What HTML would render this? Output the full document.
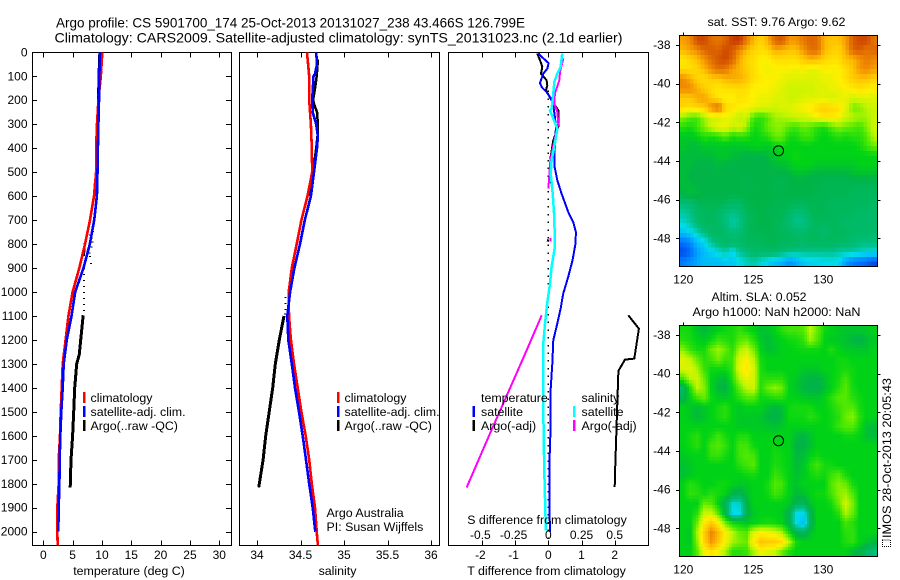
<!DOCTYPE html>
<html lang="en">
<head>
<meta charset="utf-8">
<title>Argo profile CS 5901700_174</title>
<style>
html,body{margin:0;padding:0;background:#fff;}
#chart{display:block;width:900px;height:580px;background:#fff;}
text{font-family:"Liberation Sans",sans-serif;font-size:12.4px;fill:#000;}
.title{font-size:14px;}
.tick{font-size:12px;}
</style>
</head>
<body>
<svg id="chart" xmlns="http://www.w3.org/2000/svg" width="900" height="580" viewBox="0 0 900 580">
  <text class="title" x="56" y="27.5" textLength="469" lengthAdjust="spacingAndGlyphs">Argo profile: CS 5901700_174 25-Oct-2013 20131027_238 43.466S 126.799E</text>
  <text class="title" x="54.5" y="42.5" textLength="568" lengthAdjust="spacingAndGlyphs">Climatology: CARS2009. Satellite-adjusted climatology: synTS_20131023.nc (2.1d earlier)</text>

  <g id="panel-t"></g>
  <g id="panel-s"></g>
  <g id="panel-d"></g>
  <g id="map-sst"></g>
  <g id="map-sla"></g>

  <text x="129" y="575" text-anchor="middle">temperature (deg C)</text>
  <text x="337.5" y="575" text-anchor="middle">salinity</text>
  <text x="546.5" y="575" text-anchor="middle">T difference from climatology</text>
  <text x="547" y="524" text-anchor="middle">S difference from climatology</text>

  <g>
    <rect x="83" y="392" width="2.5" height="11" fill="#ff0000"/>
    <rect x="83" y="406" width="2.5" height="11" fill="#0000ff"/>
    <rect x="83" y="420" width="2.5" height="11" fill="#000"/>
    <text x="90.5" y="402">climatology</text>
    <text x="90.5" y="416">satellite-adj. clim.</text>
    <text x="90.5" y="430">Argo(..raw -QC)</text>
  </g>
  <g>
    <rect x="337" y="392" width="2.5" height="11" fill="#ff0000"/>
    <rect x="337" y="406" width="2.5" height="11" fill="#0000ff"/>
    <rect x="337" y="420" width="2.5" height="11" fill="#000"/>
    <text x="344.5" y="402">climatology</text>
    <text x="344.5" y="416">satellite-adj. clim.</text>
    <text x="344.5" y="430">Argo(..raw -QC)</text>
  </g>
  <g>
    <text x="326.5" y="517">Argo Australia</text>
    <text x="326.5" y="531">PI: Susan Wijffels</text>
  </g>
  <g id="diff-legend">
    <text x="481" y="402">temperature</text>
    <rect x="472.5" y="406" width="2.5" height="11" fill="#0000ff"/>
    <text x="481" y="416">satellite</text>
    <rect x="472.5" y="420" width="2.5" height="11" fill="#000"/>
    <text x="481" y="430">Argo(-adj)</text>
    <text x="581.5" y="402">salinity</text>
    <rect x="573" y="406" width="2.5" height="11" fill="#00ffff"/>
    <text x="581.5" y="416">satellite</text>
    <rect x="573" y="420" width="2.5" height="11" fill="#ff00ff"/>
    <text x="581.5" y="430">Argo(-adj)</text>
  </g>

  <text x="776.5" y="26" text-anchor="middle" textLength="138" lengthAdjust="spacingAndGlyphs">sat. SST: 9.76 Argo: 9.62</text>
  <text x="759" y="301" text-anchor="middle" textLength="95" lengthAdjust="spacingAndGlyphs">Altim. SLA: 0.052</text>
  <text x="776.5" y="316" text-anchor="middle" textLength="168" lengthAdjust="spacingAndGlyphs">Argo h1000: NaN h2000: NaN</text>
  <text transform="translate(891,538) rotate(-90)" x="0" y="0" textLength="160" lengthAdjust="spacingAndGlyphs">IMOS 28-Oct-2013 20:05:43</text>
  <rect x="882.5" y="540" width="8" height="6.5" fill="none" stroke="#000" stroke-width="1" stroke-dasharray="1 1"/>
</svg>
<script>
/* ---------- depth axis ---------- */
const depthTicks = [0,100,200,300,400,500,600,700,800,900,1000,1100,1200,1300,1400,1500,1600,1700,1800,1900,2000];

/* ---------- temperature panel ---------- */
const tempTicks = [0,5,10,15,20,25,30];
const tempClimDepth = [0,100,200,300,400,500,600,700,800,900,1000,1100,1200,1300,1400,1500,1600,1700,1800,1900,2000,2057];
const tempClimValue = [10.06,9.8,9.4,9.15,9.0,9.0,8.65,7.96,7.1,6.14,5.0,4.27,3.8,3.3,3.13,2.96,2.85,2.62,2.62,2.39,2.39,2.45];
const tempSatDepth = [0,100,200,300,400,500,600,700,800,850,900,1000,1100,1200,1300,1400,1500,1600,1700,1800,1900,2000];
const tempSatValue = [9.66,9.55,9.5,9.4,9.3,9.24,9.13,8.67,7.93,7.4,6.85,5.43,4.8,4.0,3.47,3.3,3.07,2.9,2.8,2.74,2.62,2.56];
const tempArgoDepth = [0,100,300,500,550,590];
const tempArgoValue = [9.6,9.45,9.3,9.15,8.8,8.7];
const tempArgoMidDepth = [770,800,830,850];
const tempArgoMidValue = [7.4,7.0,7.0,6.9];
const tempArgoDeepDepth = [1097,1200,1260,1300,1400,1500,1600,1700,1800,1815];
const tempArgoDeepValue = [6.8,6.37,6.14,5.69,5.35,5.18,5.0,4.72,4.6,4.58];
const tempRawDepth = [570,590,610,680,690,730,745,760,775,790,810,835,850,880,900,925,950,975,1000,1025,1050,1075];
const tempRawValue = [8.7,8.7,8.7,8.7,8.7,8.4,8.5,8.0,8.2,8.4,8.2,7.9,8.0,8.1,6.94,6.94,6.94,6.94,6.94,6.94,6.94,6.94];

/* ---------- salinity panel ---------- */
const salTicks = [34,34.5,35,35.5,36];
const salClimDepth = [0,100,200,300,400,500,600,700,800,900,1000,1100,1200,1300,1400,1500,1600,1700,1800,1900,2000,2057];
const salClimValue = [34.575,34.6,34.6,34.62,34.63,34.635,34.58,34.51,34.456,34.4,34.364,34.368,34.39,34.425,34.468,34.51,34.56,34.6,34.63,34.667,34.686,34.7];
const salSatDepth = [0,50,90,100,200,250,300,350,400,500,600,700,800,900,1000,1100,1200,1300,1400,1500,1600,1700,1800,1900,2000];
const salSatValue = [34.68,34.69,34.667,34.65,34.635,34.64,34.68,34.7,34.69,34.655,34.62,34.55,34.494,34.43,34.38,34.348,34.36,34.4,34.437,34.483,34.525,34.563,34.6,34.64,34.67];
const salArgoDepth = [30,100,150,200,220,250,300,350,400,500,600];
const salArgoValue = [34.7,34.686,34.667,34.645,34.66,34.69,34.7,34.695,34.68,34.645,34.6];
const salArgoDeepDepth = [1100,1200,1300,1400,1500,1600,1700,1800,1815];
const salArgoDeepValue = [34.31,34.256,34.21,34.18,34.14,34.1,34.07,34.026,34.02];
const salRawDepth = [1020,1045,1070,1090];
const salRawValue = [34.33,34.33,34.33,34.32];

/* ---------- difference panel ---------- */
const diffTTicks = [-2,-1,0,1,2];
const diffSTicks = [-0.5,-0.25,0,0.25,0.5];
const diffSatTDepth = [5,19,45,68,89,128,145,166,193,221,270,314,367,430,478,534,590,666,708,750,798,868,937,1007,1070,1132,1201,1299,1410,1563,1730,1869,2001];
const diffSatTValue = [-0.29,-0.2,0.01,-0.03,-0.15,-0.25,-0.2,-0.05,0.08,0.15,0.2,0.23,0.21,0.18,0.19,0.27,0.4,0.6,0.75,0.83,0.82,0.73,0.6,0.45,0.37,0.27,0.15,0.12,0.07,0.07,0.03,0.03,0.05];
const diffArgoTDepth = [5,33,61,89,117,138,158,189,221,242,311,367,437,548];
const diffArgoTValue = [-0.33,-0.25,-0.18,-0.22,-0.05,-0.03,-0.07,0.05,0.2,0.3,0.3,0.15,0.07,0.05];
const diffArgoTMarkDepth = [780,790];
const diffArgoTMarkValue = [0,-0.02];
const diffArgoTDeepDepth = [1097,1153,1278,1282,1329,1452,1632,1757,1813];
const diffArgoTDeepValue = [2.41,2.73,2.59,2.31,2.11,2.08,2.04,2.01,2.0];
const diffSatSDepth = [5,61,89,124,173,236,242,277,319,381,451,506,590,687,812,895,965,1048,1132,1215,1382,1493,1660,1799,1994];
const diffSatSValue = [0.105,0.093,0.068,0.045,0.038,0.025,0.013,0.038,0.068,0.05,0.025,0.018,0.033,0.045,0.05,0.025,0.013,-0.008,-0.025,-0.038,-0.038,-0.038,-0.033,-0.028,-0.018];
const diffArgoSDepth = [26,82,117,172,214,249,298,360,423,465,514,569];
const diffArgoSValue = [0.113,0.088,0.083,0.05,0.045,0.068,0.075,0.05,0.025,0.013,0.008,0];
const diffArgoSMarkDepth = [775,790];
const diffArgoSMarkValue = [0.018,0.018];
const diffArgoSDeepDepth = [1097,1243,1410,1591,1816];
const diffArgoSDeepValue = [-0.05,-0.163,-0.295,-0.44,-0.615];
const diffZeroDepth = [160,2030];
const diffZeroValue = [0,0];

/* ---------- maps ---------- */
const lonTicks = [120,125,130];
const latTicks = [-38,-40,-42,-44,-46,-48];
const argoLon = [126.8];
const argoLat = [-43.47];
const sstRows = [
[11.8,12.0,12.7,12.7,12.3,12.2,12.4,12.8,12.9,12.2,11.6,11.3,11.7,12.4,12.6,11.9,11.9,12.2,12.4,12.3,11.6,11.5,11.5,11.8,12.5,12.7,12.7,12.2],
[11.6,11.8,12.0,12.4,12.5,12.4,12.7,12.5,12.0,11.6,11.3,11.2,11.3,11.7,11.6,11.5,11.5,11.9,12.3,12.3,11.6,11.4,11.3,11.7,12.4,12.5,12.2,12.4],
[11.1,11.3,11.5,11.9,12.3,12.6,12.7,12.4,11.7,11.3,11.2,11.0,11.0,11.2,11.2,11.2,11.2,11.4,11.6,11.5,11.3,11.2,11.2,11.5,11.6,11.9,12.2,12.0],
[11.2,11.2,11.3,11.6,12.0,12.3,12.2,11.8,11.6,11.4,11.2,11.0,10.9,11.0,11.0,11.0,10.9,11.0,10.8,10.9,11.0,11.0,11.0,11.2,11.5,11.9,12.0,11.8],
[12.0,11.7,11.3,11.2,11.4,11.4,11.6,11.7,11.7,11.5,11.2,11.1,11.0,11.0,10.9,10.8,10.8,10.8,10.8,10.8,10.9,10.9,11.0,11.2,11.4,11.5,11.5,11.3],
[12.0,12.0,11.7,11.4,11.2,11.1,11.2,11.2,11.2,11.2,11.0,11.0,11.0,10.9,10.8,10.7,10.7,10.7,10.7,10.8,10.8,10.9,10.9,11.0,11.1,11.2,11.1,11.0],
[11.4,11.4,11.7,11.8,11.4,11.1,11.0,11.0,11.2,11.1,11.0,10.9,10.9,10.8,10.8,10.7,10.7,10.8,10.8,10.8,10.8,10.7,10.8,10.9,10.7,10.8,10.8,10.8],
[11.3,11.2,11.3,11.4,12.0,12.4,11.3,11.2,11.0,11.0,10.9,10.8,10.8,10.7,10.8,10.8,10.9,11.0,11.1,11.3,11.4,11.3,11.2,10.9,10.3,10.4,10.6,10.7],
[10.4,10.2,10.1,10.5,10.7,10.7,10.9,10.8,10.6,10.7,10.1,10.0,10.2,10.5,10.5,10.6,10.7,10.7,10.8,11.0,11.1,11.1,11.0,10.7,10.6,10.5,10.5,10.7],
[10.0,9.9,10.1,10.4,10.7,10.9,10.9,10.7,10.8,10.5,9.9,10.0,10.3,10.4,10.4,10.2,10.1,10.3,10.2,10.0,9.9,10.2,10.4,10.3,10.2,10.1,10.4,10.7],
[9.7,9.7,9.8,10.0,9.9,10.0,10.2,9.9,10.0,10.0,9.8,9.9,10.0,10.3,10.3,9.9,9.9,10.1,10.1,9.9,9.8,9.9,10.0,9.9,10.0,10.0,10.2,10.6],
[9.7,9.6,9.6,9.7,9.7,9.7,9.7,9.7,9.7,9.7,9.8,9.8,9.7,9.8,9.9,9.8,9.8,9.8,9.8,9.8,9.8,9.8,9.8,9.8,9.8,9.9,10.1,10.3],
[9.6,9.6,9.6,9.6,9.6,9.7,9.7,9.6,9.6,9.5,9.5,9.5,9.6,9.7,9.8,9.8,9.9,9.8,9.8,9.8,9.8,9.8,9.8,9.8,9.8,9.8,9.8,9.8],
[9.6,9.6,9.5,9.5,9.5,9.6,9.5,9.5,9.5,9.5,9.5,9.5,9.5,9.6,9.6,9.7,9.8,9.8,9.8,9.7,9.7,9.7,9.7,9.7,9.7,9.8,9.8,9.8],
[9.6,9.5,9.5,9.5,9.5,9.5,9.5,9.5,9.5,9.5,9.5,9.5,9.5,9.5,9.5,9.5,9.6,9.6,9.5,9.5,9.5,9.5,9.5,9.5,9.6,9.6,9.6,9.6],
[9.6,9.6,9.5,9.5,9.5,9.5,9.5,9.5,9.5,9.4,9.5,9.5,9.5,9.4,9.4,9.5,9.5,9.5,9.5,9.5,9.4,9.4,9.4,9.4,9.4,9.4,9.4,9.4],
[9.5,9.6,9.6,9.5,9.5,9.5,9.5,9.5,9.5,9.5,9.5,9.5,9.5,9.5,9.5,9.5,9.5,9.5,9.5,9.4,9.4,9.4,9.4,9.4,9.3,9.3,9.3,9.3],
[9.0,9.1,9.3,9.4,9.4,9.4,9.3,9.2,9.2,9.4,9.5,9.5,9.5,9.4,9.4,9.4,9.3,9.3,9.4,9.4,9.4,9.3,9.3,9.3,9.3,9.3,9.3,9.2],
[8.8,8.9,9.2,9.3,9.3,9.2,9.0,8.9,9.0,9.3,9.4,9.5,9.4,9.4,9.4,9.2,9.0,9.1,9.3,9.4,9.4,9.3,9.3,9.3,9.3,9.2,9.2,9.2],
[8.6,8.8,9.1,9.3,9.3,9.2,9.0,8.8,8.9,9.3,9.4,9.5,9.5,9.4,9.3,9.1,8.9,8.9,9.2,9.3,9.3,9.3,9.3,9.2,9.2,9.2,9.2,9.2],
[8.2,8.4,8.7,9.0,9.2,9.3,9.2,9.0,9.1,9.3,9.4,9.4,9.4,9.4,9.3,9.3,9.2,9.2,9.3,9.3,9.1,9.3,9.3,9.3,9.2,9.2,9.2,9.1],
[7.5,7.7,8.2,8.4,8.9,9.1,9.2,9.2,9.2,9.3,9.3,9.3,9.4,9.4,9.3,9.3,9.3,9.2,9.3,9.3,9.3,9.3,9.2,9.2,9.1,9.0,9.0,9.0],
[7.2,7.4,7.9,8.2,8.4,8.6,8.8,8.4,8.9,9.0,9.2,9.2,9.2,9.2,9.1,9.0,8.9,8.9,8.9,8.9,8.9,8.9,8.8,8.8,8.8,8.7,8.6,8.6],
[7.6,7.8,8.0,8.2,8.2,8.2,8.3,8.3,8.5,8.7,8.8,8.6,8.4,8.2,8.1,7.8,8.0,8.3,8.4,8.4,8.5,8.5,8.5,7.9,7.6,7.5,7.4,7.2]
];
const slaRows = [
[0.03,0.02,-0.03,-0.06,-0.03,0,0.02,0.03,0.06,0.03,0,-0.04,-0.03,0,0.05,0.08,0.08,0.1,0.2,0.12,0.02,0,-0.02,-0.03,-0.03,-0.03,-0.02,0],
[0.05,0.03,0,-0.02,0.02,0.07,0.05,0.03,0.1,0.12,0.05,-0.02,-0.05,-0.02,0,0.02,0.03,0.06,0.17,0.1,0,-0.02,-0.02,-0.04,-0.06,-0.08,-0.05,-0.02],
[0.15,0.07,0.03,0.03,0.12,0.17,0.12,0.05,0.18,0.22,0.13,0,-0.04,-0.03,0,0,0.01,0.02,0.02,0.02,0,0.04,0,-0.02,-0.02,-0.03,-0.03,0],
[0.25,0.2,0.12,0.05,0.08,0.13,0.07,0.08,0.25,0.3,0.2,0.03,0,0,0,0,0,0,0,0,0,0,0.02,0.02,0,0,0,0],
[0.24,0.25,0.18,0.07,0.02,0.02,0.02,0.07,0.27,0.33,0.24,0.04,0,0,0,0,0,-0.02,-0.02,-0.02,0,0,0.02,0.03,0.02,0,0,0],
[0.08,0.2,0.22,0.12,0,-0.04,-0.05,0.05,0.2,0.27,0.23,0.05,0.05,0.05,0.05,0,-0.02,-0.05,-0.07,-0.07,-0.04,0,0.03,0.08,0.02,0,0,0],
[-0.15,0.05,0.2,0.15,0,-0.06,-0.07,0,0.12,0.2,0.22,0.05,0.12,0.16,0.12,0,-0.03,-0.06,-0.08,-0.08,-0.05,0,0.05,0.1,0.03,0,0,0],
[-0.1,0,0.08,0.12,0.02,-0.02,-0.02,0,0.05,0.1,0.1,0.02,0.03,0.05,0.05,0,0,-0.02,-0.03,-0.03,0,0.05,0.1,0.1,0.05,0.02,0,0],
[0,-0.02,-0.05,-0.02,0,0.03,0.05,0,-0.02,0,0,0,-0.04,-0.06,-0.04,0.02,0.03,0.03,0.03,0,0,0.03,0.07,0.1,0.1,0.03,0,0],
[0,-0.02,-0.05,-0.03,0,0.03,0.05,0,-0.02,-0.02,-0.02,-0.03,-0.06,-0.08,-0.05,0.02,0.02,0.02,0.05,0.03,0,0.02,0.05,0.12,0.15,0.05,0,0],
[0,0,0,0,0,0,0,0,-0.02,-0.02,-0.02,-0.02,-0.03,-0.04,-0.02,0,0,0,0,0,0,0.02,0.07,0.1,0.1,0.03,-0.04,-0.05],
[0,0.03,0.05,0,0.03,0.08,0.03,0,0.04,0.04,0,0,0,0,0,0,-0.05,-0.07,-0.03,0,0,0,0,0.02,0.02,0,-0.04,-0.05],
[0,0.02,0.05,0,0.08,0.1,0.06,0,0.08,0.08,0.02,0,0,0.02,0,0,-0.07,-0.07,-0.04,0,0,0,0,0,0,0,0,0],
[-0.02,0,0,0,0.06,0.07,0.03,0,0.08,0.1,0.08,0,0,0.03,0.02,0,-0.06,-0.05,0,0.02,0,0,0,0,0,0,0,0],
[-0.04,-0.02,0,0,0,0,0,0,0.05,0.08,0.1,0,0,0.04,0.02,0,-0.05,-0.03,0.04,0.08,0.03,0.02,0,0,0,0,0,0],
[-0.04,-0.02,0,0,0,0,0,0,0,0.02,0.03,0,0,0.07,0.04,0,-0.04,-0.02,0.02,0.04,0.02,0.07,0.1,0.03,0,0,0,0],
[0,0.05,0.03,0,0,0.02,0.02,0,-0.02,-0.02,0,0,0.03,0.1,0.08,0,-0.03,0,0,0,0,0.1,0.15,0.12,0.03,0,0,0],
[0,0.06,0.05,0.02,0.05,0.03,0,-0.08,-0.1,-0.04,0,0,0.02,0.08,0.05,0,-0.05,-0.04,0,0.02,0.02,0.08,0.15,0.17,0.1,0,0,0],
[0,0,0,0.12,0.1,0,-0.1,-0.3,-0.28,-0.08,0,0,0,0,0,-0.02,-0.1,-0.12,-0.03,0,0,0.03,0.12,0.22,0.14,0,0,0],
[0,0,0.05,0.22,0.22,0.1,-0.08,-0.34,-0.32,-0.1,-0.02,0,0,0,-0.02,-0.08,-0.32,-0.34,-0.1,0,0,0,0.05,0.18,0.12,0,0,0],
[0,0,0.12,0.32,0.4,0.3,0.12,0.02,0,-0.02,0,0.02,0.03,0.02,0,-0.08,-0.32,-0.4,-0.12,0,0,0,0,0.08,0.05,0,0,0],
[0,-0.02,0.18,0.4,0.56,0.45,0.3,0.2,0.12,0.1,0.25,0.3,0.28,0.25,0.18,0.03,-0.1,-0.12,-0.04,0,0,0,0,0.05,0.06,0,0,0],
[0,-0.02,0.15,0.38,0.52,0.42,0.28,0.18,0.14,0.12,0.32,0.42,0.4,0.4,0.35,0.2,0.03,0,0,0,0,0,0,0.04,0.06,0,-0.03,-0.06],
[0,0,0.1,0.28,0.34,0.28,0.18,0.05,0.05,0.07,0.18,0.28,0.25,0.22,0.12,0.04,0,0,0,0,0,0,0,0,-0.05,-0.08,-0.14,-0.2]
];

/* ---------- axis functions ---------- */
const depthY = d => 52.3 + d * 0.2397;
const tempX = t => 43.3 + t * 5.867;
const salX = s => 257 + (s - 34) * 87;
const diffTX = t => 548.3 + t * 33.2;
const diffSX = s => 548.3 + s * 132.8;

const SVGNS = 'http://www.w3.org/2000/svg';
function mk(parent, tag, attrs, txt) {
  const el = document.createElementNS(SVGNS, tag);
  for (const k in attrs) el.setAttribute(k, attrs[k]);
  if (txt !== undefined) el.textContent = txt;
  parent.appendChild(el);
  return el;
}
function line(parent, name, xScale, depths, values, color, width, dash) {
  const pts = depths.map((d, i) => xScale(values[i]).toFixed(1) + ',' + depthY(d).toFixed(1)).join(' ');
  const el = mk(parent, 'polyline', {points: pts, fill: 'none', stroke: color, 'stroke-width': width, 'shape-rendering': 'crispEdges'});
  if (dash) el.setAttribute('stroke-dasharray', dash);
  
  
  return el;
}
function dots(parent, name, xScale, depths, values) {
  depths.forEach((d, i) => {
    const el = mk(parent, 'rect', {x: (xScale(values[i]) - 1).toFixed(1), y: depthY(d).toFixed(1), width: 2, height: 1, fill: '#000', 'shape-rendering': 'crispEdges'});
    
    
  });
}
function frame(parent, x0, y0, x1, y1) {
  const el = mk(parent, 'rect', {x: x0, y: y0, width: x1 - x0, height: y1 - y0, fill: 'none', stroke: '#000', 'stroke-width': 1, 'shape-rendering': 'crispEdges'});
  
  
}
function tick(parent, x1, y1, x2, y2) {
  const el = mk(parent, 'line', {x1, y1, x2, y2, stroke: '#000', 'stroke-width': 1, 'shape-rendering': 'crispEdges'});
  
  
}
function label(parent, name, x, y, anchor, txt) {
  const el = mk(parent, 'text', {x, y, 'text-anchor': anchor, 'class': 'tick'}, txt);
  
  
}
function xAxis(parent, ticks, scale, top, bottom, labelY) {
  ticks.forEach(v => {
    const x = Math.round(scale(v)) + 0.5;
    tick(parent, x, top, x, top + 5);
    tick(parent, x, bottom, x, bottom - 5);
    label(parent, 'x-tick-label', scale(v) - (v < 0 ? 1.5 : 0), labelY, 'middle', String(v));
  });
}

/* ---------- temperature panel ---------- */
const pT = document.getElementById('panel-t');
frame(pT, 32.5, 52.5, 231.5, 545.5);
depthTicks.forEach(d => {
  const y = Math.round(depthY(d)) + 0.5;
  tick(pT, 32.5, y, 37, y);
  tick(pT, 231.5, y, 226, y);
  label(pT, 'y-tick-label', 27.5, depthY(d) + 4, 'end', String(d));
});
xAxis(pT, tempTicks, tempX, 52.5, 545.5, 559);
dots(pT, 'argo-raw-temperature', tempX, tempRawDepth, tempRawValue);
line(pT, 'argo-temperature-upper', tempX, tempArgoDepth, tempArgoValue, '#000', 2.5);
line(pT, 'argo-temperature-mid', tempX, tempArgoMidDepth, tempArgoMidValue, '#000', 2);
line(pT, 'argo-temperature-deep', tempX, tempArgoDeepDepth, tempArgoDeepValue, '#000', 3);
line(pT, 'climatology-temperature', tempX, tempClimDepth, tempClimValue, '#ff0000', 2.6);
line(pT, 'satellite-temperature', tempX, tempSatDepth, tempSatValue, '#0000ff', 2.6);

/* ---------- salinity panel ---------- */
const pS = document.getElementById('panel-s');
frame(pS, 239.5, 52.5, 439.5, 545.5);
xAxis(pS, salTicks, salX, 52.5, 545.5, 559);
dots(pS, 'argo-raw-salinity', salX, salRawDepth, salRawValue);
line(pS, 'argo-salinity-upper', salX, salArgoDepth, salArgoValue, '#000', 2.5);
line(pS, 'argo-salinity-deep', salX, salArgoDeepDepth, salArgoDeepValue, '#000', 3);
line(pS, 'climatology-salinity', salX, salClimDepth, salClimValue, '#ff0000', 2.6);
line(pS, 'satellite-salinity', salX, salSatDepth, salSatValue, '#0000ff', 2.6);

/* ---------- difference panel ---------- */
const pD = document.getElementById('panel-d');
frame(pD, 448.5, 52.5, 648.5, 545.5);
xAxis(pD, diffTTicks, diffTX, 52.5, 545.5, 559);
diffSTicks.forEach(v => label(pD, 's-diff-tick-label', diffSX(v) - (v < 0 ? 1.5 : 0), 539, 'middle', String(v)));
line(pD, 'zero-line', diffTX, diffZeroDepth, diffZeroValue, '#000', 1.2, '1.5 6.2');
line(pD, 't-diff-argo-upper', diffTX, diffArgoTDepth, diffArgoTValue, '#000', 2);
line(pD, 't-diff-argo-deep', diffTX, diffArgoTDeepDepth, diffArgoTDeepValue, '#000', 2);
line(pD, 't-diff-argo-mark', diffTX, diffArgoTMarkDepth, diffArgoTMarkValue, '#000', 2);
line(pD, 't-diff-satellite', diffTX, diffSatTDepth, diffSatTValue, '#0000ff', 2);
line(pD, 's-diff-argo-upper', diffSX, diffArgoSDepth, diffArgoSValue, '#ff00ff', 2);
line(pD, 's-diff-argo-deep', diffSX, diffArgoSDeepDepth, diffArgoSDeepValue, '#ff00ff', 2);
line(pD, 's-diff-argo-mark', diffSX, diffArgoSMarkDepth, diffArgoSMarkValue, '#ff00ff', 2);
line(pD, 's-diff-satellite', diffSX, diffSatSDepth, diffSatSValue, '#00ffff', 2.5);

/* ---------- map colour scale ---------- */
const colorStops = [
 [0.00,0,50,210],[0.08,0,110,255],[0.17,0,170,255],[0.25,0,220,235],
 [0.33,0,190,125],[0.42,0,180,70],[0.47,0,212,20],[0.54,90,235,0],
 [0.60,190,245,0],[0.67,255,240,0],[0.75,255,195,0],[0.83,240,140,0],
 [0.92,215,90,0],[1.00,190,40,0]];
function colorAt(t) {
  t = Math.max(0, Math.min(1, t));
  for (let i = 1; i < colorStops.length; i++) {
    const a = colorStops[i - 1], b = colorStops[i];
    if (t <= b[0]) {
      const f = (t - a[0]) / (b[0] - a[0]);
      return 'rgb(' + [1,2,3].map(k => Math.round(a[k] + (b[k] - a[k]) * f)).join(',') + ')';
    }
  }
  return 'rgb(190,40,0)';
}
/* sample the gridded field between its cell centres, as the original map is finer than the stored grid */
function sample(rows, rf, cf) {
  const nr = rows.length, nc = rows[0].length;
  const r = Math.max(0, Math.min(nr - 1, rf)), c = Math.max(0, Math.min(nc - 1, cf));
  const r0 = Math.floor(r), c0 = Math.floor(c);
  const r1 = Math.min(nr - 1, r0 + 1), c1 = Math.min(nc - 1, c0 + 1);
  const fr = r - r0, fc = c - c0;
  return rows[r0][c0] * (1 - fr) * (1 - fc) + rows[r0][c1] * (1 - fr) * fc +
         rows[r1][c0] * fr * (1 - fc) + rows[r1][c1] * fr * fc;
}
function drawMap(group, cellName, rows, vmin, vmax, top, bottom, lat38, sub) {
  const lonX = lon => 683.3 + (lon - 120) * 14.0;
  const latY = lat => lat38 + (-38 - lat) * 19.33;
  const left = 679.5, right = 877.5;
  const nr = rows.length * sub, nc = rows[0].length * sub;
  const cw = (right - left) / nc, ch = (bottom - top) / nr;
  for (let r = 0; r < nr; r++) {
    for (let c = 0; c < nc; c++) {
      const v = sample(rows, (r + 0.5) / sub - 0.5, (c + 0.5) / sub - 0.5);
      const el = mk(group, 'rect', {
        x: (left + c * cw).toFixed(2), y: (top + r * ch).toFixed(2),
        width: (cw + 0.4).toFixed(2), height: (ch + 0.4).toFixed(2),
        fill: colorAt((v - vmin) / (vmax - vmin)), 'shape-rendering': 'crispEdges'});
      
      
    }
  }
  frame(group, left, top, right, bottom);
  lonTicks.forEach(v => {
    const x = Math.round(lonX(v)) + 0.5;
    tick(group, x, top, x, top - 3);
    label(group, 'longitude-tick-label', lonX(v), bottom + 17, 'middle', String(v));
  });
  latTicks.forEach(v => {
    const y = Math.round(latY(v)) + 0.5;
    tick(group, left, y, left - 3.5, y);
    tick(group, right, y, right + 3, y);
    label(group, 'latitude-tick-label', 670.5, latY(v) + 4, 'end', String(v));
  });
  const c = mk(group, 'circle', {cx: lonX(argoLon[0]).toFixed(1), cy: latY(argoLat[0]).toFixed(1), r: 5, fill: 'none', stroke: '#000', 'stroke-width': 1});
  
  
}
drawMap(document.getElementById('map-sst'), 'sst-cell', sstRows, 7, 13, 35.5, 266.5, 45, 2);
drawMap(document.getElementById('map-sla'), 'sla-cell', slaRows, -0.7, 0.8, 325.5, 556.5, 335, 3);
</script>
</body>
</html>
